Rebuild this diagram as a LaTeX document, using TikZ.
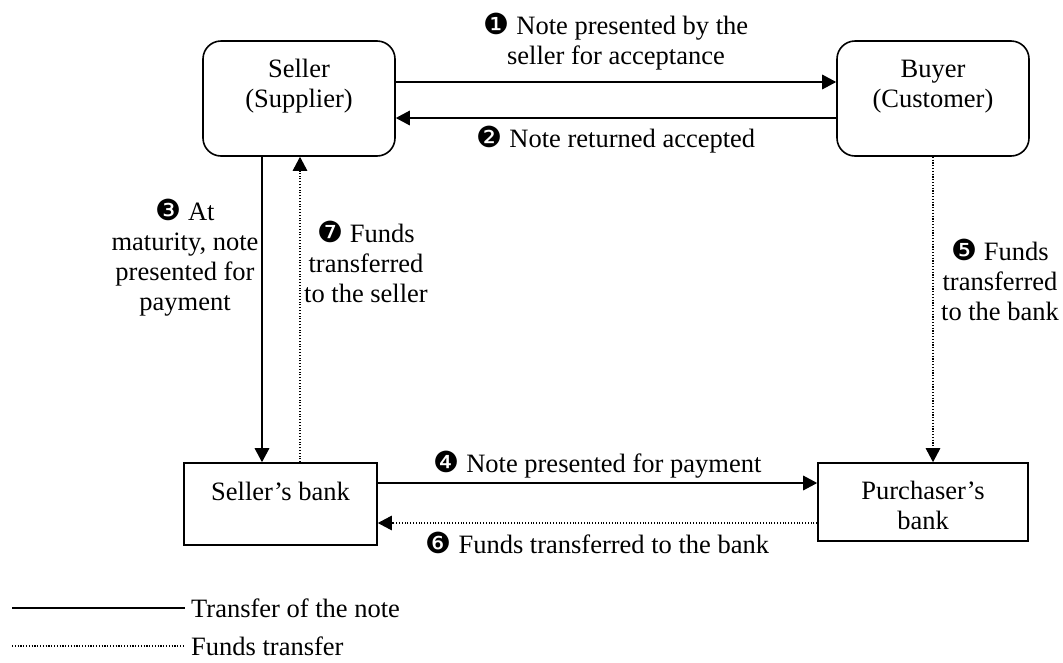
\documentclass[tikz,border=0pt]{standalone}
\usepackage{fontspec}
\setmainfont{Liberation Serif}
\newfontfamily\dejavu{DejaVu Sans}
\usetikzlibrary{arrows.meta,calc}
% circled step numbers
\newcommand{\stepnum}[1]{{\dejavu\fontsize{29}{29}\selectfont #1}}

\begin{document}
\begin{tikzpicture}[x=1pt,y=-1pt,
  every node/.style={font=\fontsize{26.5}{30}\selectfont, inner sep=0pt},
  party/.style={draw, line width=1.6pt, rounded corners=18pt,
                minimum width=192pt, minimum height=115pt},
  bankbox/.style={draw, line width=1.6pt},
  tip/.style={-{Triangle[length=14pt,width=14.5pt]}},
  note/.style={tip, line width=1.6pt},
  dotline/.style={line width=1.1pt, dash pattern=on 1.1pt off 1.7pt},
  funds/.style={tip, dotline},
  lbl/.style={align=center}
]
\useasboundingbox (0,0) rectangle (1063,662);

% parties and banks
\node[party] (seller) at (299,98.5) {};
\node[party] (buyer)  at (933,98.5) {};
\node[bankbox, minimum width=193pt, minimum height=82pt] (sbank) at (280.5,504) {};
\node[bankbox, minimum width=210pt, minimum height=78pt] (pbank) at (923,502) {};

\node[lbl] (sellertxt) at ([yshift=12pt]seller.center) {Seller\\(Supplier)};
\node[lbl] (buyertxt)  at ([yshift=12pt]buyer.center) {Buyer\\(Customer)};
\node[lbl] (sbanktxt)  at ([yshift=-29pt]sbank.north) {Seller’s bank};
\node[lbl] (pbanktxt)  at ([yshift=-43pt]pbank.north) {Purchaser’s\\bank};

% flow of the note
\draw[note] ([yshift=16.5pt]seller.east) -- ([yshift=16.5pt]seller.east -| buyer.west);
\draw[note] ([yshift=-19.5pt]buyer.west) -- ([yshift=-19.5pt]buyer.west -| seller.east);
\coordinate (down3) at ([xshift=-18.5pt]sbank.north);
\draw[note] (down3 |- seller.south) -- (down3);
\draw[note] ([yshift=21pt]sbank.east) -- ([yshift=21pt]sbank.east -| pbank.west);

% flow of the funds
\draw[funds] (buyer.south) -- (buyer.south |- pbank.north);
\draw[funds] ([yshift=-19pt]sbank.east -| pbank.west) -- ([yshift=-19pt]sbank.east);
\coordinate (up7) at ([xshift=19.5pt]sbank.north);
\draw[funds] (up7) -- (up7 |- seller.south);

% step labels
\node[lbl] (s1) at (616,42) {\stepnum{❶} Note presented by the\\seller for acceptance};
\node[lbl] (s2) at (616,140) {\stepnum{❷} Note returned accepted};
\node[lbl] (s3) at (185,258) {\stepnum{❸} At\\maturity, note\\presented for\\payment};
\node[lbl] (s7) at (366,262) {\stepnum{❼} Funds\\transferred\\to the seller};
\node[lbl] (s5) at (1000,280) {\stepnum{❺} Funds\\transferred\\to the bank};
\node[lbl] (s4) at (597.5,465) {\stepnum{❹} Note presented for payment};
\node[lbl] (s6) at (597.5,543) {\stepnum{❻} Funds transferred to the bank};

% legend
\node[anchor=west] (leg1) at (191,608) {Transfer of the note};
\node[anchor=west] (leg2) at (191,646) {Funds transfer};
\coordinate (leg1start) at (12,608);
\coordinate (leg2start) at (12,646);
\draw[line width=1.6pt] (leg1start) -- ([xshift=-6pt]leg1.west);
\draw[dotline] (leg2start) -- ([xshift=-6pt]leg2.west);
\end{tikzpicture}
\end{document}
